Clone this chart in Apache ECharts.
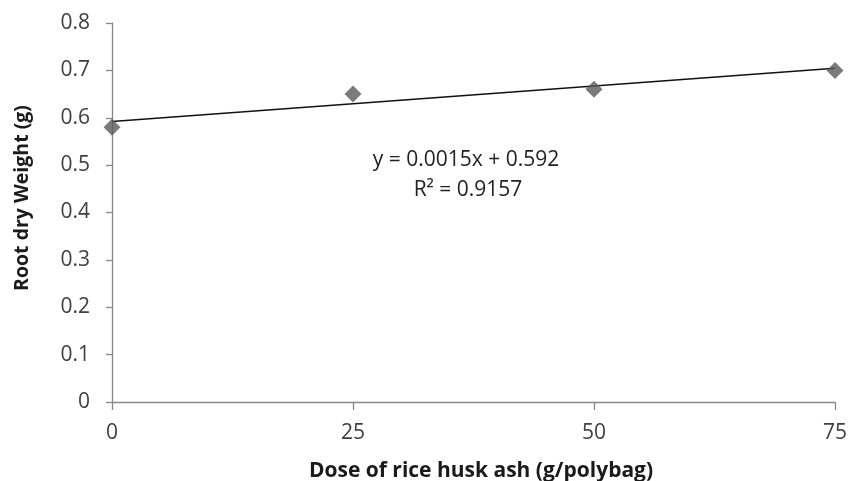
<!DOCTYPE html>
<html>
<head>
<meta charset="utf-8">
<script src="https://cdn.jsdelivr.net/npm/echarts@6/dist/echarts.min.js"></script>
<style>html,body{margin:0;padding:0;background:#fff;}#c{width:850px;height:481px;}</style>
</head>
<body>
<div id="c"></div>
<script>
var doses = [0, 25, 50, 75];
var rootDryWeight = [0.58, 0.65, 0.66, 0.70];
var trendX = [0, 75];
var trendY = [0.592, 0.7045];
var equationLines = ['y = 0.0015x + 0.592', 'R\u00B2 = 0.9157'];
var xTitle = 'Dose of rice husk ash (g/polybag)';
var yTitle = 'Root dry Weight (g)';

var chart = echarts.init(document.getElementById('c'));
var font = '"Open Sans", "Noto Sans", sans-serif';
chart.setOption({
  animation: false,
  backgroundColor: '#fff',
  grid: {left: 112, right: 13, top: 23, bottom: 79, containLabel: false},
  xAxis: {
    type: 'value', min: 0, max: 75, interval: 25,
    axisLine: {show: true, onZero: false, lineStyle: {color: '#888', width: 1.3}},
    axisTick: {show: true, inside: false, length: 8, lineStyle: {color: '#888', width: 1.3}},
    axisLabel: {fontFamily: font, fontSize: 21, color: '#404040', margin: 21},
    splitLine: {show: false}
  },
  yAxis: {
    type: 'value', min: 0, max: 0.8, interval: 0.1,
    axisLine: {show: true, lineStyle: {color: '#888', width: 1.3}},
    axisTick: {show: true, length: 6, lineStyle: {color: '#888', width: 1.3}},
    axisLabel: {fontFamily: font, fontSize: 21, color: '#404040', margin: 22,
      formatter: function(v){ return v === 0 ? '0' : v.toFixed(1); }},
    splitLine: {show: false}
  },
  series: [
    {
      type: 'line', data: trendX.map(function(x, i){ return [x, trendY[i]]; }),
      symbol: 'none', lineStyle: {color: '#111', width: 1.5}, z: 2
    },
    {
      type: 'scatter', data: doses.map(function(x, i){ return [x, rootDryWeight[i]]; }),
      symbol: 'diamond', symbolSize: [17, 17], itemStyle: {color: '#5a5a5a'}, z: 3
    }
  ],
  graphic: [
    {type: 'text', x: 466, y: 160, style: {text: equationLines[0], fontFamily: font, fontSize: 21, fill: '#222', align: 'center', verticalAlign: 'middle'}},
    {type: 'text', x: 468, y: 190, style: {text: equationLines[1], fontFamily: font, fontSize: 21, fill: '#222', align: 'center', verticalAlign: 'middle'}},
    {type: 'text', x: 481, y: 471, style: {text: xTitle, fontFamily: font, fontWeight: 'bold', fontSize: 21, fill: '#1a1a1a', align: 'center', verticalAlign: 'middle'}},
    {type: 'text', x: 22, y: 198, rotation: Math.PI / 2, style: {text: yTitle, fontFamily: font, fontWeight: 'bold', fontSize: 19.5, fill: '#1a1a1a', align: 'center', verticalAlign: 'middle'}}
  ]
});
</script>
</body>
</html>
